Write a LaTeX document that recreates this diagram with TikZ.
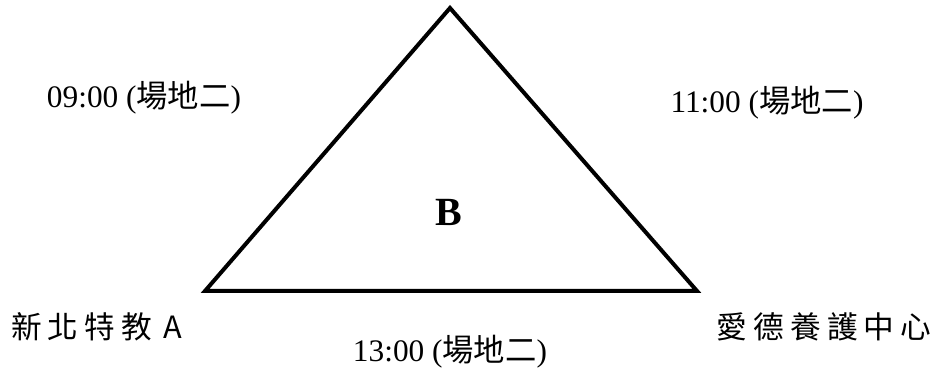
\documentclass[tikz,border=0pt]{standalone}
\usepackage{fontspec}
\setmainfont{Liberation Serif}
\newfontfamily\cjk{Noto Sans CJK TC}
\begin{document}
\begin{tikzpicture}[x=0.75pt,y=-0.75pt,
  tri/.style={line width=3pt,line join=miter},
  timelbl/.style={font=\fontsize{23.5}{27}\selectfont,inner sep=0pt,anchor=base},
  place/.style={font=\cjk\fontsize{23}{27}\selectfont,inner sep=0pt,anchor=base west},
  mid/.style={font=\bfseries\fontsize{30}{34}\selectfont,inner sep=0pt,anchor=base}]
\useasboundingbox (0,0) rectangle (940,374);
\coordinate (top) at (450,8);
\coordinate (bl) at (205,291);
\coordinate (br) at (697,291);
\draw[tri] (top) -- (br) -- (bl) -- cycle;
\node[mid] (b) at (449,226) {B};
\node[timelbl] (t1) at (144,108) {09:00 ({\cjk 場地二})};
\node[timelbl] (t2) at (767,113) {11:00 ({\cjk 場地二})};
\node[timelbl] (t3) at (450,362) {13:00 ({\cjk 場地二})};
\node[place] (pa) at (11,339) {新\hspace{4.5pt}北\hspace{4.5pt}特\hspace{4.5pt}教\hspace{9pt}A};
\node[place] (pb) at (716,339) {愛\hspace{4.7pt}德\hspace{4.7pt}養\hspace{4.7pt}護\hspace{4.7pt}中\hspace{4.7pt}心};
\end{tikzpicture}
\end{document}
